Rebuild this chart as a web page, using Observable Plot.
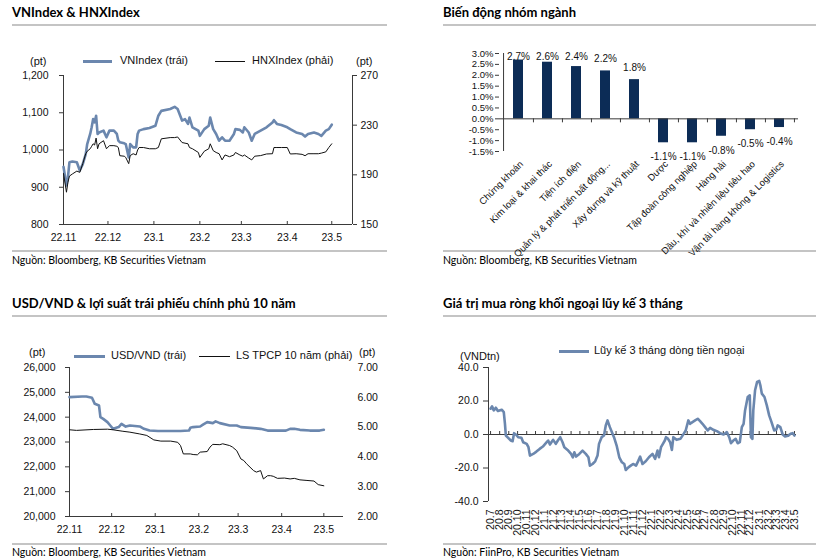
<!DOCTYPE html>
<html><head><meta charset="utf-8">
<script src="https://cdn.jsdelivr.net/npm/d3@7"></script>
<script src="https://cdn.jsdelivr.net/npm/@observablehq/plot@0.6"></script>
<style>
html,body{margin:0;padding:0;background:#fff;}
body{position:relative;width:822px;height:560px;overflow:hidden;font-family:"Liberation Sans",Arial,sans-serif;color:#111;}
.t{position:absolute;white-space:nowrap;line-height:1;}
.title{font-family:Lato,sans-serif;font-weight:700;font-size:13px;color:#000;}
.src{font-family:Lato,sans-serif;font-size:10.5px;color:#000;}
.leg{font-size:11px;color:#111;}
.hr{position:absolute;height:0;border-top:2px solid #c4c4c4;}
.sw{position:absolute;height:0;}
svg{position:absolute;overflow:visible;}
</style></head><body>
<script>
// ---------- Panel 1: VNIndex & HNXIndex ----------
const p1Dates = ["2022-11-01","2022-11-03","2022-11-04","2022-11-05","2022-11-07","2022-11-10","2022-11-12","2022-11-14","2022-11-16","2022-11-17","2022-11-19","2022-11-20","2022-11-21","2022-11-22","2022-11-23","2022-11-24","2022-11-25","2022-11-28","2022-11-30",
"2022-12-02","2022-12-05","2022-12-07","2022-12-08","2022-12-09","2022-12-12","2022-12-13","2022-12-15","2022-12-16","2022-12-18","2022-12-20","2022-12-21","2022-12-22","2022-12-25","2022-12-29",
"2023-01-02","2023-01-04","2023-01-06","2023-01-12","2023-01-15","2023-01-17","2023-01-20","2023-01-22","2023-01-24","2023-01-25","2023-01-27","2023-01-31",
"2023-02-01","2023-02-04","2023-02-07","2023-02-08","2023-02-10","2023-02-12","2023-02-14","2023-02-16","2023-02-18","2023-02-21","2023-02-24","2023-02-25","2023-02-28",
"2023-03-02","2023-03-03","2023-03-06","2023-03-08","2023-03-10","2023-03-14","2023-03-18","2023-03-22","2023-03-23","2023-03-25","2023-03-28",
"2023-04-01","2023-04-03","2023-04-07","2023-04-11","2023-04-13","2023-04-15","2023-04-19","2023-04-22","2023-04-24","2023-04-27","2023-04-29","2023-05-01"];
const vnIndex = [955,905,927,967,969,967,945,962,989,1016,1043,1061,1083,1074,1092,1043,1047,1052,1034,
1052,1052,1043,1025,1021,1018,1016,980,1016,1007,1007,1043,1052,1056,1059,
1065,1092,1105,1110,1116,1110,1079,1083,1070,1087,1061,1052,
1038,1056,1065,1087,1056,1043,1025,1034,1025,1025,1043,1056,1054,
1047,1061,1047,1025,1043,1052,1061,1074,1080,1070,1067,
1061,1056,1047,1043,1036,1043,1047,1043,1038,1052,1056,1068];
const hnxIndex = [191,176,184,189,190.7,193,192,199,207,209,211,213,215,214,219.6,211,215,217.5,211,
213.5,213.5,213,212,205.4,205,204,199,205.5,207,206,210,212,212,211,
211,212,219,220,220,220.5,216,215.5,215,212,211,208,
204,209,211,215,209.5,208,207,202,206,204.6,206,208,206,
205,206,203.5,202,205,205.5,206.8,207,212,212,212,
212,206.8,207,206.5,205.4,207,207,207,207.5,208.5,212,215];
const vnTicks = [800,900,1000,1100,1200];
const hnxTicks = [150,190,230,270];

// ---------- Panel 2: Biến động nhóm ngành ----------
const sectors = ["Chứng khoán","Kim loại & khai thác","Tiện ích điện","Quản lý & phát triển bất động...","Xây dựng và kỹ thuật","Dược","Tập đoàn công nghiệp","Hàng hải","Dầu, khí và nhiên liệu tiêu hao","Vận tải hàng không & Logistics"];
const sectorChange = [2.7,2.6,2.4,2.2,1.8,-1.1,-1.1,-0.8,-0.5,-0.4];
const pctTicks = [-1.5,-1.0,-0.5,0,0.5,1.0,1.5,2.0,2.5,3.0];

// ---------- Panel 3: USD/VND & bond yield ----------
const usdDates = ["2022-11-01","2022-11-10","2022-11-13","2022-11-17","2022-11-19","2022-11-22","2022-11-23","2022-11-25","2022-11-28","2022-11-30",
"2022-12-02","2022-12-06","2022-12-08","2022-12-11","2022-12-14","2022-12-21","2022-12-24","2022-12-28",
"2023-01-03","2023-01-10","2023-01-19","2023-01-25","2023-01-26","2023-01-28",
"2023-02-02","2023-02-04","2023-02-07","2023-02-11","2023-02-13","2023-02-16","2023-02-23","2023-02-28",
"2023-03-03","2023-03-10","2023-03-17","2023-03-22","2023-03-29",
"2023-04-04","2023-04-07","2023-04-10","2023-04-14","2023-04-21","2023-04-28","2023-05-01"];
const usdVnd = [24806,24830,24830,24780,24537,24470,24000,23930,23800,23665,
23530,23600,23730,23620,23665,23625,23530,23460,
23440,23440,23440,23460,23570,23600,
23625,23700,23800,23760,23830,23760,23665,23665,
23600,23570,23530,23460,23460,
23460,23530,23530,23490,23460,23460,23490];
const bondDates = ["2022-11-01","2022-11-06","2022-11-18","2022-11-28","2022-12-02","2022-12-09","2022-12-14","2022-12-21","2022-12-26","2022-12-31",
"2023-01-05","2023-01-12","2023-01-17","2023-01-19","2023-01-21","2023-01-26","2023-01-28","2023-01-31",
"2023-02-02","2023-02-07","2023-02-09","2023-02-11","2023-02-16","2023-02-18","2023-02-23","2023-02-25","2023-02-28",
"2023-03-03","2023-03-05","2023-03-07","2023-03-12","2023-03-14","2023-03-17","2023-03-19","2023-03-22","2023-03-24","2023-03-26","2023-03-29",
"2023-04-03","2023-04-07","2023-04-10","2023-04-14","2023-04-19","2023-04-24","2023-04-27","2023-05-01"];
const bondYield = [4.91,4.89,4.92,4.93,4.91,4.86,4.83,4.77,4.72,4.57,
4.53,4.53,4.49,4.38,4.10,4.10,4.08,4.07,
4.16,4.18,4.33,4.42,4.41,4.44,4.38,4.33,4.21,
3.93,3.88,3.77,3.54,3.49,3.54,3.26,3.37,3.37,3.35,3.28,
3.29,3.26,3.28,3.23,3.21,3.19,3.07,3.03];
const usdTicks = [20000,21000,22000,23000,24000,25000,26000];
const bondTicks = [2,3,4,5,6,7];

// ---------- Panel 4: foreign net buying, 3-month cumulative ----------
const flowDates = ["2020-07-01","2020-07-06","2020-07-12","2020-07-19","2020-07-26","2020-08-08","2020-08-15","2020-08-19","2020-08-22","2020-08-30",
"2020-09-08","2020-09-14","2020-09-19","2020-09-25","2020-10-03","2020-10-14","2020-10-20","2020-11-01","2020-11-07","2020-11-12","2020-11-23",
"2020-12-04","2020-12-15","2020-12-26","2021-01-08","2021-01-13","2021-01-19","2021-01-24","2021-01-30","2021-02-08","2021-02-15","2021-02-23",
"2021-03-03","2021-03-09","2021-03-20","2021-04-01","2021-04-07","2021-04-12","2021-04-18","2021-04-29","2021-05-10","2021-05-21","2021-05-30",
"2021-06-04","2021-06-13","2021-06-22","2021-06-30","2021-07-05","2021-07-14","2021-07-22","2021-07-28","2021-08-03","2021-08-11","2021-08-18","2021-08-25",
"2021-09-03","2021-09-12","2021-09-21","2021-09-29","2021-10-04","2021-10-13","2021-10-21","2021-10-29","2021-11-08","2021-11-16","2021-11-22","2021-11-30",
"2021-12-11","2021-12-22","2022-01-03","2022-01-12","2022-01-20","2022-01-25","2022-02-01","2022-02-06","2022-02-14","2022-02-18","2022-02-25",
"2022-03-04","2022-03-10","2022-03-15","2022-03-26","2022-04-08","2022-04-19","2022-04-26","2022-05-05","2022-05-11","2022-05-19","2022-05-28",
"2022-06-06","2022-06-14","2022-06-22","2022-07-01","2022-07-10","2022-07-18","2022-07-29","2022-08-10","2022-08-21","2022-09-02","2022-09-13",
"2022-09-21","2022-09-27","2022-10-05","2022-10-13","2022-10-20","2022-10-27","2022-11-03","2022-11-09","2022-11-14","2022-11-23","2022-11-30",
"2022-12-04","2022-12-09","2022-12-12","2022-12-18","2022-12-25","2023-01-01","2023-01-05","2023-01-10","2023-01-19","2023-01-27",
"2023-02-04","2023-02-12","2023-02-21","2023-02-28","2023-03-05","2023-03-14","2023-03-22","2023-03-30","2023-04-09","2023-04-18","2023-04-25","2023-05-01"];
const flowValues = [15.4,16.8,14.4,16,14,14.8,13.4,6.4,-0.6,-2,
-3.6,-4,0.8,0,-1.6,-2,-4.6,-5.6,-7.6,-12.6,-11.6,
-10.2,-8.6,-7.2,-4.6,-3.6,-6,-4.6,-3.2,-5.6,-3.6,-1.6,
-4.6,-7.6,-9.2,-11.6,-13.6,-10.6,-13.2,-11.6,-9.6,-11.6,-13.6,
-18.6,-17.6,-16,-12.6,-5.6,-1.6,-0.6,5.4,8.4,4.4,1.4,-1.6,
-6.6,-13.6,-16.6,-17.6,-21.2,-19.6,-18.6,-17.6,-18.6,-15.6,-13.2,-17.6,
-16,-13.6,-11.6,-14.6,-9.6,-13.6,-7.6,-6,-3.6,-1.6,-2.6,
-4.6,-9.2,-1.6,-3.2,-2.6,0.4,2.4,8.4,6.4,7.4,8.4,
9.4,8,6.4,4.4,2.4,4,2.8,2,0.8,0,1.4,
-1.6,-5.2,-3.6,-2.6,-5.2,-4.6,4.4,6.4,14.4,22.4,23.4,
-1.6,-2.6,14.4,26.4,31.4,32,29.4,24.4,22.4,17.4,
11.4,7.4,2.4,2.8,5.4,4.4,0,-1.2,-0.8,0.4,0.8,-0.6];
const flowTicks = [-40,-20,0,20,40];

// ---------- helpers ----------
const FONT = '"Liberation Sans", Arial, sans-serif';
const BLUE = "#6b87ae";
const NAVY = "#0c2c56";
const AXIS = "#3a3a3a";
const fmtYM = d3.utcFormat("%y.%-m");
function put(node, left, top){ node.style.position="absolute"; node.style.left=left+"px"; node.style.top=top+"px"; document.body.appendChild(node); }
function txt(cls, s, left, top){ const d=document.createElement("div"); d.className="t "+cls; d.textContent=s; d.style.left=left+"px"; d.style.top=top+"px"; document.body.appendChild(d); return d; }
function hr(left, top, width){ const d=document.createElement("div"); d.className="hr"; d.style.left=left+"px"; d.style.top=top+"px"; d.style.width=width+"px"; document.body.appendChild(d); }
function sw(left, y, width, color, thick){ const d=document.createElement("div"); d.className="sw"; d.style.left=left+"px"; d.style.top=(y-thick/2)+"px"; d.style.width=width+"px"; d.style.borderTop=thick+"px solid "+color; document.body.appendChild(d); }
const baseStyle = {fontFamily:FONT, fontSize:"10.5px", color:"#111", background:"transparent", overflow:"visible"};

// ---------- static text ----------
txt("title","VNIndex & HNXIndex",12,6);
txt("title","Biến động nhóm ngành",443,6);
txt("title","USD/VND & lợi suất trái phiếu chính phủ 10 năm",12,297);
txt("title","Giá trị mua ròng khối ngoại lũy kế 3 tháng",443,297);
hr(12,24,375); hr(443,24,373); hr(12,315,375); hr(443,315,373);
hr(12,250,375); hr(443,250,373); hr(12,543,375); hr(443,543,373);
txt("src","Nguồn: Bloomberg, KB Securities Vietnam",12,255);
txt("src","Nguồn: Bloomberg, KB Securities Vietnam",443,255);
txt("src","Nguồn: Bloomberg, KB Securities Vietnam",12,547);
txt("src","Nguồn: FiinPro, KB Securities Vietnam",443,547);

// legends
sw(83,61,29,BLUE,3); txt("leg","VNIndex (trái)",120,55);
sw(215,61,30,"#111",1); txt("leg","HNXIndex (phải)",252,55);
txt("leg","(pt)",30,56); txt("leg","(pt)",356,56);
sw(74,356,31,BLUE,3); txt("leg","USD/VND (trái)",111,350);
sw(199,356,31,"#111",1); txt("leg","LS TPCP 10 năm (phải)",236,350);
txt("leg","(pt)",29,347); txt("leg","(pt)",359,347);
sw(559,351,30,BLUE,3); txt("leg","Lũy kế 3 tháng dòng tiền ngoại",594,345);
txt("leg","(VNDtn)",460,351);

// ---------- Panel 1 ----------
{
  const data = p1Dates.map((d,i)=>({date:new Date(d), vn:vnIndex[i], hnx:hnxIndex[i]}));
  const x0 = new Date("2022-11-01"), x1 = new Date("2023-05-15");
  const ticks = d3.utcMonth.range(x0, new Date("2023-05-02"));
  const toL = v => 800 + (v-150)*400/120, fromL = y => 150 + (y-800)*120/400;
  const H=250, mt=75, mb=26, fh=H-mt-mb;
  const svg = Plot.plot({
    width:411, height:H, marginLeft:63, marginRight:59, marginTop:mt, marginBottom:mb,
    x:{type:"utc", domain:[x0,x1]}, y:{domain:[800,1200]},
    style:baseStyle,
    marks:[
      Plot.ruleY([800],{stroke:AXIS}),
      Plot.ruleX([x0,x1],{stroke:AXIS}),
      Plot.ruleX(ticks,{stroke:AXIS, insetTop:fh-3}),
      Plot.axisX({ticks, tickFormat:fmtYM, tickSize:0, tickPadding:9, label:null}),
      Plot.axisY({ticks:vnTicks, tickFormat:d3.format(","), tickSize:4, tickPadding:11, label:null, stroke:AXIS}),
      Plot.axisY({anchor:"right", ticks:hnxTicks.map(toL), tickFormat:d=>String(Math.round(fromL(d))), tickSize:4, tickPadding:4, label:null, stroke:AXIS}),
      Plot.line(data,{x:"date", y:"vn", stroke:BLUE, strokeWidth:2.6}),
      Plot.line(data,{x:"date", y:d=>toL(d.hnx), stroke:"#111", strokeWidth:1})
    ]
  });
  put(svg,0,0);
}

// ---------- Panel 2 ----------
{
  const bars = sectors.map((s,i)=>({s, v:sectorChange[i]}));
  const H=250, mt=53, mb=99, ml=88, mr=24, fh=H-mt-mb, fw=411-ml-mr;
  const step = fw/sectors.length;
  const unitPx = fh/4.5;
  const svg = Plot.plot({
    width:411, height:H, marginLeft:ml, marginRight:mr, marginTop:mt, marginBottom:mb,
    x:{domain:sectors, paddingInner:0.65, paddingOuter:0.325},
    y:{domain:[-1.5,3.0]},
    style:baseStyle,
    marks:[
      Plot.barY(bars,{x:"s", y:"v", fill:NAVY}),
      Plot.ruleY([0],{stroke:AXIS}),
      Plot.ruleX([sectors[0]],{x:d=>d, dx:-step/2, y1:-1.5, y2:3.0, stroke:AXIS}),
      Plot.ruleX(sectors,{x:d=>d, dx:step/2, y1:0, y2:-4/unitPx, stroke:AXIS}),
      Plot.axisY({ticks:pctTicks, tickFormat:d=>d.toFixed(1)+"%", tickSize:4, tickPadding:2, fontSize:9.5, label:null, stroke:AXIS}),
      Plot.axisX({tickRotate:-45, tickSize:0, tickPadding:11, fontSize:9.5, label:null, dx:3}),
      Plot.text(bars.filter(d=>d.v>=0),{x:"s", y:d=>Math.min(d.v+0.55,2.86), text:d=>d.v.toFixed(1)+"%", fontSize:10}),
      Plot.text(bars.filter(d=>d.v<0),{x:"s", y:d=>d.v-0.65, text:d=>d.v.toFixed(1)+"%", fontSize:10})
    ]
  });
  put(svg,411,0);
}

// ---------- Panel 3 ----------
{
  const usd = usdDates.map((d,i)=>({date:new Date(d), v:usdVnd[i]}));
  const bond = bondDates.map((d,i)=>({date:new Date(d), v:bondYield[i]}));
  const x0 = new Date("2022-11-01"), x1 = new Date("2023-05-15");
  const ticks = d3.utcMonth.range(x0, new Date("2023-05-02"));
  const toL = v => 20000 + (v-2)*6000/5, fromL = y => 2 + (y-20000)*5/6000;
  const H=253, mt=77, mb=27, fh=H-mt-mb;
  const svg = Plot.plot({
    width:411, height:H, marginLeft:69, marginRight:68, marginTop:mt, marginBottom:mb,
    x:{type:"utc", domain:[x0,x1]}, y:{domain:[20000,26000]},
    style:baseStyle,
    marks:[
      Plot.ruleY([20000],{stroke:AXIS}),
      Plot.ruleX([x0],{stroke:AXIS}),
      Plot.ruleX(ticks,{stroke:AXIS, insetTop:fh-3}),
      Plot.axisX({ticks, tickFormat:fmtYM, tickSize:0, tickPadding:9, label:null}),
      Plot.axisY({ticks:usdTicks, tickFormat:d3.format(","), tickSize:4, tickPadding:10, label:null, stroke:AXIS}),
      Plot.axisY({anchor:"right", ticks:bondTicks.map(toL), tickFormat:d=>fromL(d).toFixed(2), tickSize:0, tickPadding:14, label:null}),
      Plot.line(usd,{x:"date", y:"v", stroke:BLUE, strokeWidth:2.6}),
      Plot.line(bond,{x:"date", y:d=>toL(d.v), stroke:"#111", strokeWidth:1})
    ]
  });
  put(svg,0,290);
}

// ---------- Panel 4 ----------
{
  const flow = flowDates.map((d,i)=>({date:new Date(d), v:flowValues[i]}));
  const x0 = new Date("2020-06-24"), x1 = new Date("2023-05-08");
  const ticks = d3.utcMonth.range(new Date("2020-07-01"), new Date("2023-05-02"));
  const H=253, mt=77, mb=42, fh=H-mt-mb;
  const unitPx = fh/80;
  const svg = Plot.plot({
    width:411, height:H, marginLeft:77, marginRight:26, marginTop:mt, marginBottom:mb,
    x:{type:"utc", domain:[x0,x1]}, y:{domain:[-40,40]},
    style:baseStyle,
    marks:[
      Plot.ruleX([x0],{stroke:AXIS}),
      Plot.ruleY([0],{stroke:AXIS}),
      Plot.ruleX(ticks,{x:d=>d, y1:0, y2:3/unitPx, stroke:AXIS}),
      Plot.axisY({ticks:flowTicks, tickFormat:d=>d.toFixed(1), tickSize:5, tickPadding:5, label:null, stroke:AXIS}),
      Plot.axisX({ticks, tickFormat:fmtYM, tickRotate:-90, tickSize:0, tickPadding:8, fontSize:10.5, label:null}),
      Plot.line(flow,{x:"date", y:"v", stroke:BLUE, strokeWidth:2.6})
    ]
  });
  put(svg,411,290);
}
</script>
</body></html>
